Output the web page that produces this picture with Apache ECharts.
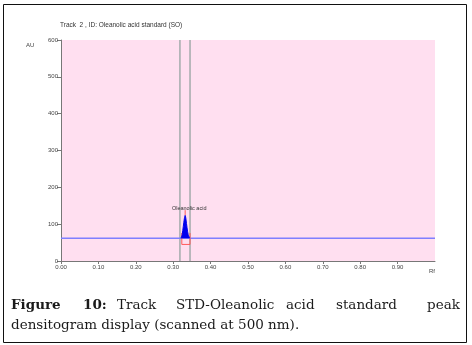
<!DOCTYPE html>
<html>
<head>
<meta charset="utf-8">
<script src="https://cdn.jsdelivr.net/npm/echarts@6/dist/echarts.min.js"></script>
<style>
  html, body { margin: 0; padding: 0; background: #fff; }
  #chart { width: 472px; height: 345px; }
</style>
</head>
<body>
<div id="chart"></div>
<script>
// densitogram data (Rf, AU)
const baseline = [[0, 62], [1.0, 62]];
const peakRf = [0.321, 0.324, 0.327, 0.330, 0.332, 0.334, 0.337, 0.340, 0.344];
const peakAU = [62, 72, 94, 116, 124, 114, 90, 72, 62];
const peakTop = [[0.332, 124], [0.332, 138]];
const peakBox = [[0.323, 76], [0.323, 45], [0.345, 45], [0.345, 76]];
const trackLines = [0.318, 0.345];

const chart = echarts.init(document.getElementById("chart"));

const small = { fontFamily: "Liberation Sans", fontSize: 6, color: "#444" };
const serif = "DejaVu Serif";
const capY = 308;
// first caption line, justified word by word
const line1 = [
  { t: "Figure", x: 11, bold: true },
  { t: "10:", x: 83, bold: true },
  { t: "Track", x: 117 },
  { t: "STD-Oleanolic", x: 176 },
  { t: "acid", x: 286 },
  { t: "standard", x: 336 },
  { t: "peak", x: 427 },
];

const option = {
  animation: false,
  grid: {
    left: 61,
    top: 40,
    right: 37,
    bottom: 84,
    show: true,
    backgroundColor: "#ffdff0",
    borderWidth: 0,
  },
  xAxis: {
    type: "value",
    min: 0,
    max: 1.0,
    interval: 0.1,
    axisLine: { lineStyle: { color: "#777", width: 1 } },
    axisTick: { show: true, length: 3, lineStyle: { color: "#777" } },
    splitLine: { show: false },
    axisLabel: {
      ...small,
      margin: 3,
      showMaxLabel: false,
      formatter: (v) => v.toFixed(2),
    },
  },
  yAxis: {
    type: "value",
    min: 0,
    max: 600,
    interval: 100,
    axisLine: { show: true, lineStyle: { color: "#777", width: 1 } },
    axisTick: { show: true, length: 4, lineStyle: { color: "#777" } },
    splitLine: { show: false },
    axisLabel: { ...small, margin: 3 },
  },
  series: [
    {
      // track boundaries
      type: "line",
      data: [[trackLines[0], 0], [trackLines[0], 600], null, [trackLines[1], 0], [trackLines[1], 600]],
      connectNulls: false,
      symbol: "none",
      lineStyle: { color: "#a4abab", width: 1.5 },
      z: 2,
    },
    {
      type: "line",
      data: baseline,
      symbol: "none",
      lineStyle: { color: "#7f7fff", width: 1.5 },
      z: 3,
    },
    {
      type: "line",
      data: peakBox,
      symbol: "none",
      lineStyle: { color: "#ff5a5a", width: 1 },
      z: 4,
    },
    {
      type: "line",
      data: peakRf.map((r, i) => [r, peakAU[i]]),
      symbol: "none",
      smooth: 0.3,
      lineStyle: { color: "#0000ee", width: 1 },
      areaStyle: { color: "#0000ee", opacity: 1, origin: 62 },
      z: 5,
    },
    {
      type: "line",
      data: peakTop,
      symbol: "none",
      lineStyle: { color: "#ff5a5a", width: 1 },
      endLabel: {
        show: true,
        formatter: "Oleanolic acid",
        ...small,
        fontSize: 5.5,
        color: "#333",
        align: "center",
        verticalAlign: "bottom",
        offset: [-4, 1],
      },
      z: 6,
    },
  ],
  graphic: [
    {
      type: "rect",
      shape: { x: 3.5, y: 4.5, width: 463, height: 338 },
      style: { fill: "none", stroke: "#111", lineWidth: 1 },
    },
    {
      type: "text",
      left: 60, top: 22,
      style: { text: "Track  2 , ID: Oleanolic acid standard (SO)", font: "6.5px Liberation Sans", fill: "#333" },
    },
    {
      type: "text",
      left: 26, top: 42,
      style: { text: "AU", font: "6px Liberation Sans", fill: "#444" },
    },
    {
      type: "text",
      left: 429, top: 268,
      style: { text: "Rf", font: "6px Liberation Sans", fill: "#444" },
    },
    ...line1.map((w) => ({
      type: "text",
      left: w.x, top: capY - 10,
      style: {
        text: w.t,
        font: (w.bold ? "bold " : "") + "13.5px " + serif,
        fill: "#1a1a1a",
      },
    })),
    {
      type: "text",
      left: 11, top: capY + 10,
      style: { text: "densitogram display (scanned at 500 nm).", font: "13.5px " + serif, fill: "#1a1a1a" },
    },
  ],
};

chart.setOption(option);
</script>
</body>
</html>
